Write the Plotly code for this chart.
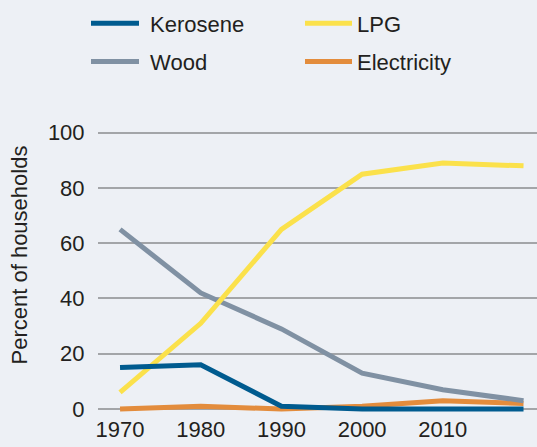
import plotly.graph_objects as go

years = [1970, 1980, 1990, 2000, 2010, 2020]
kerosene = [15, 16, 1, 0, 0, 0]
wood = [65, 42, 29, 13, 7, 3]
lpg = [6, 31, 65, 85, 89, 88]
electricity = [0, 1, 0, 1, 3, 2]

x_ticks = [1970, 1980, 1990, 2000, 2010]
y_ticks = [0, 20, 40, 60, 80, 100]

BG = "#edf0f5"
FONT = "Liberation Sans, Arial, sans-serif"
TXT = "#231f20"
W, H = 537, 447
FS = 22
NB = "\u00a0"

# (name, values, colour, legend, legend rank)
series = [
    ("Electricity", electricity, "#e38c3c", "legend2", 2),
    ("Wood", wood, "#8091a3", "legend", 2),
    ("LPG", lpg, "#fbe14b", "legend2", 1),
    ("Kerosene", kerosene, "#005b8f", "legend", 1),
]

fig = go.Figure()
for name, vals, color, leg, rank in series:
    label = (NB + name) if leg == "legend" else name
    fig.add_trace(go.Scatter(
        x=years, y=vals, name=label, mode="lines",
        line=dict(color=color, width=5),
        legend=leg, legendgroup=name, legendrank=rank,
    ))

legend_common = dict(
    orientation="v", bgcolor="rgba(0,0,0,0)",
    font=dict(family=FONT, size=FS, color=TXT),
    tracegroupgap=6.5, traceorder="grouped",
    yanchor="top", xanchor="left", y=1 - 2.5 / H,
)

fig.update_layout(
    width=W, height=H,
    paper_bgcolor=BG, plot_bgcolor=BG,
    margin=dict(l=0, r=0, t=0, b=0, autoexpand=False),
    font=dict(family=FONT, size=FS, color=TXT),
    showlegend=True,
    legend=dict(x=86 / W, itemwidth=48, **legend_common),
    legend2=dict(x=300 / W, itemwidth=47, **legend_common),
    xaxis=dict(
        domain=[98 / W, 1.0],
        range=[1967.27, 2021.67], tickvals=x_ticks, showgrid=False,
        zeroline=False, showline=False, ticks="",
        tickfont=dict(size=FS, color=TXT),
    ),
    yaxis=dict(
        domain=[33 / H, 327 / H],
        range=[-1.81, 104.6], tickvals=y_ticks, showgrid=True,
        gridcolor="#a3a5a8", gridwidth=1.5, zeroline=False, showline=False,
        ticks="outside", ticklen=8, tickcolor="rgba(0,0,0,0)",
        tickfont=dict(size=FS, color=TXT),
    ),
    annotations=[dict(
        text="Percent of households", textangle=-90,
        xref="paper", yref="paper", x=19.5 / W, y=1 - 255 / H,
        xanchor="center", yanchor="middle", showarrow=False,
        font=dict(family=FONT, size=FS, color=TXT),
    )],
)

fig.write_html(
    "out.html",
    config={"displayModeBar": False},
    post_script="document.body.style.margin='0';document.body.style.overflow='hidden';",
)
